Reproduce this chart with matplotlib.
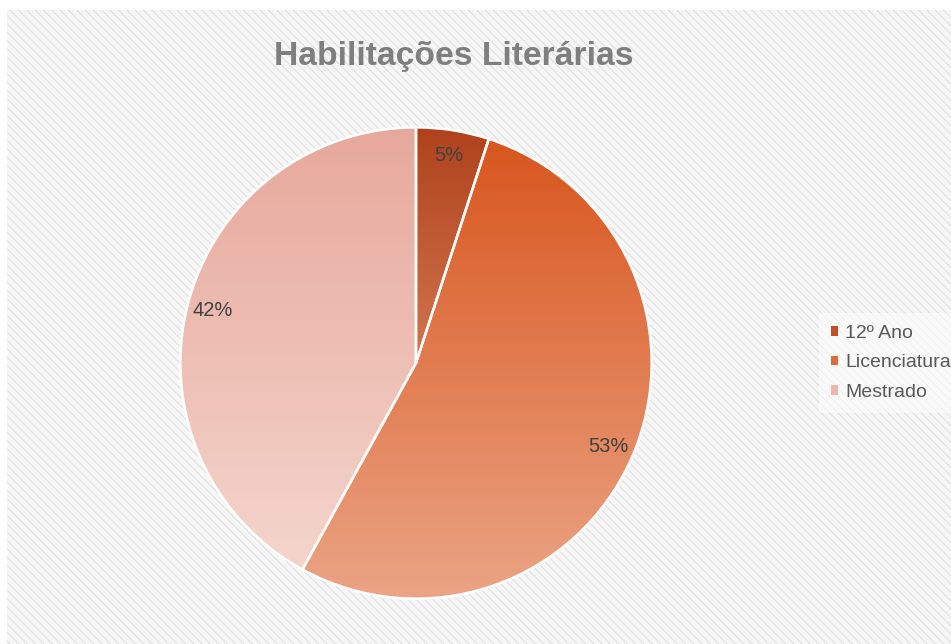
import numpy as np
import matplotlib.pyplot as plt
from matplotlib.patches import Rectangle
from matplotlib.colors import to_rgb

plt.rcParams.update({
    "font.family": ["Liberation Sans", "DejaVu Sans"],
    "hatch.linewidth": 0.6,
    "hatch.color": "#DADADA",
})

# Data (percent shares)
categories = ["12º Ano", "Licenciatura", "Mestrado"]
shares = [5, 53, 42]

# gradient colours per slice: (top, bottom)
C_TOP = ["#AF421C", "#D8561E", "#E7A89C"]
C_BOT = ["#D27550", "#EBA485", "#F4D5CC"]
C_LEG = ["#C0502A", "#E06A3C", "#EDB8AC"]

W, H = 951, 644
fig = plt.figure(figsize=(W / 100, H / 100), dpi=100)
fig.patch.set_facecolor("white")

# hatched chart area background
bg = Rectangle((7 / W, 0), 1 - 7 / W, 1 - 10 / H, transform=fig.transFigure,
               facecolor="#F6F6F6", edgecolor="#DADADA", hatch="\\\\\\\\",
               lw=0, zorder=-5)
fig.patches.append(bg)

# pie axes: centre (416, 363) px, radius ~236 px
cx, cy, r = 416, 363, 238
ax = fig.add_axes([(cx - r) / W, (H - cy - r) / H, 2 * r / W, 2 * r / H])
ax.set_facecolor("none")

wedges, texts, autotexts = ax.pie(
    shares, startangle=90, counterclock=False, autopct="%1.0f%%",
    pctdistance=0.89, radius=1.0,
    wedgeprops=dict(edgecolor="white", linewidth=1.8),
    textprops=dict(color="#404040", fontsize=14.5),
)

for w, ctop, cbot in zip(wedges, C_TOP, C_BOT):
    ext = w.get_path().get_extents()
    t = np.linspace(0, 1, 256)[:, None]
    grad = (1 - t) * np.array(to_rgb(ctop)) + t * np.array(to_rgb(cbot))
    img = ax.imshow(grad[:, None, :], extent=[ext.x0, ext.x1, ext.y0, ext.y1],
                    origin="upper", aspect="auto", zorder=w.get_zorder() - 0.1,
                    interpolation="bilinear")
    img.set_clip_path(w)
    w.set_facecolor("none")

ax.set_xlim(-1.01, 1.01)
ax.set_ylim(-1.01, 1.01)
ax.set_aspect("equal")
ax.axis("off")

fig.text(454 / W, 1 - 56 / H, "Habilitações Literárias", ha="center", va="center",
         fontsize=24.2, fontweight="bold", color="#7F7F7F")

handles = [Rectangle((0, 0), 1, 1, facecolor=c, edgecolor="none") for c in C_LEG]
leg = fig.legend(handles, categories, loc="upper left",
                 bbox_to_anchor=(819 / W, 1 - 313 / H), frameon=True,
                 fontsize=14, handlelength=0.4, handleheight=0.4,
                 handletextpad=0.35, labelspacing=0.66, borderpad=0.6,
                 borderaxespad=0)
leg.get_frame().set_facecolor("white")
leg.get_frame().set_alpha(0.55)
leg.get_frame().set_edgecolor("none")
leg.get_frame().set_boxstyle("square", pad=0)
for t in leg.get_texts():
    t.set_color("#595959")

fig.savefig("out.png", dpi=100)
